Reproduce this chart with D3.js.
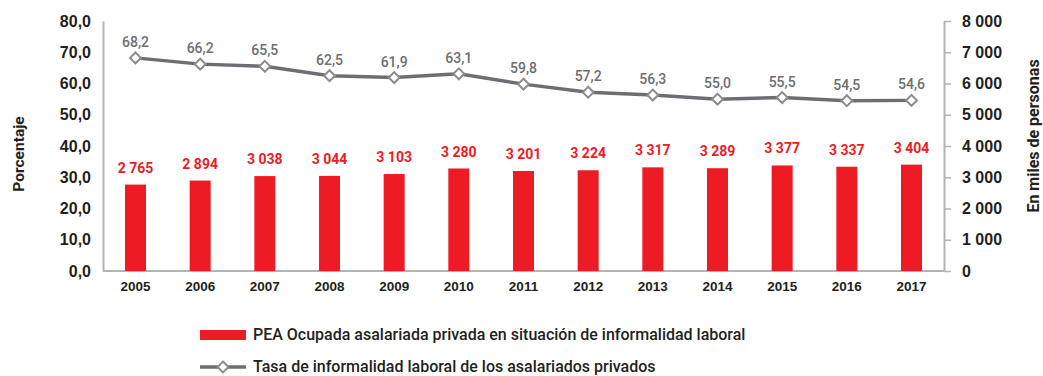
<!DOCTYPE html>
<html>
<head>
<meta charset="utf-8">
<script src="https://cdn.jsdelivr.net/npm/d3@7"></script>
<style>
  html, body { margin: 0; padding: 0; background: #fff; }
  svg { display: block; font-family: Roboto, "Liberation Sans", Arial, sans-serif; }
</style>
</head>
<body>
<svg id="chart" width="1043" height="376"></svg>
<script>
// Años del periodo
const years = ["2005","2006","2007","2008","2009","2010","2011","2012","2013","2014","2015","2016","2017"];
// PEA ocupada asalariada privada en situación de informalidad (miles de personas)
const peaInformal = [2765, 2894, 3038, 3044, 3103, 3280, 3201, 3224, 3317, 3289, 3377, 3337, 3404];
// Tasa de informalidad laboral de los asalariados privados (%)
const tasaInformalidad = [68.2, 66.2, 65.5, 62.5, 61.9, 63.1, 59.8, 57.2, 56.3, 55.0, 55.5, 54.5, 54.6];
// Marcas de los ejes
const leftTicks = [0, 10, 20, 30, 40, 50, 60, 70, 80];
const rightTicks = [0, 1000, 2000, 3000, 4000, 5000, 6000, 7000, 8000];
// Leyenda
const legendLabels = [
  "PEA Ocupada asalariada privada en situación de informalidad laboral",
  "Tasa de informalidad laboral de los asalariados privados"
];

const RED = "#ed1c24", GREY_LINE = "#6d6e71", GREY_MARK = "#8c8c8c", AXIS = "#b3b3b3", DARK = "#231f20";

const svg = d3.select("#chart");
const plot = { left: 103, right: 944, top: 21, bottom: 271 };

const x = d3.scaleBand().domain(years).range([plot.left, plot.right]).paddingInner(0.675).paddingOuter(0.34);
const yLeft = d3.scaleLinear().domain([0, 80]).range([plot.bottom, plot.top]);
const yRight = d3.scaleLinear().domain([0, 8000]).range([plot.bottom, plot.top]);

const fmtPct = d => d3.format(".1f")(d).replace(".", ",");
const fmtThousands = d => d3.format(",")(d).replace(/,/g, " ");

// Eje izquierdo (porcentaje)
const gLeft = svg.append("g").attr("transform", `translate(${plot.left},0)`)
  .call(d3.axisLeft(yLeft).tickValues(leftTicks).tickFormat(fmtPct).tickSize(0).tickPadding(12));
gLeft.select(".domain").attr("stroke", AXIS).attr("stroke-width", 2);
gLeft.selectAll("text").attr("fill", DARK).style("font-size", "16px").style("font-weight", "700");

// Eje derecho (miles de personas)
const gRight = svg.append("g").attr("transform", `translate(${plot.right},0)`)
  .call(d3.axisRight(yRight).tickValues(rightTicks).tickFormat(fmtThousands).tickSize(7).tickSizeOuter(0).tickPadding(11));
gRight.select(".domain").attr("stroke", AXIS).attr("stroke-width", 2);
gRight.selectAll(".tick line").attr("stroke", AXIS).attr("stroke-width", 1.5);
gRight.selectAll("text").attr("fill", DARK).style("font-size", "16px").style("font-weight", "700");

// Eje inferior (años)
const gBottom = svg.append("g").attr("transform", `translate(0,${plot.bottom})`)
  .call(d3.axisBottom(x).tickSize(0).tickPadding(10));
gBottom.select(".domain").attr("stroke", AXIS).attr("stroke-width", 2).attr("d", `M${plot.left},0H${plot.right}`);
gBottom.selectAll("text").attr("fill", DARK).style("font-size", "13.5px").style("font-weight", "700");

// Títulos de los ejes
svg.append("text").attr("transform", `translate(24,154) rotate(-90)`)
  .attr("text-anchor", "middle").attr("fill", DARK)
  .style("font-size", "15.5px").style("font-weight", "700").text("Porcentaje");
svg.append("text").attr("transform", `translate(1038.5,136) rotate(-90)`)
  .attr("text-anchor", "middle").attr("fill", DARK)
  .style("font-size", "16px").style("font-weight", "700").text("En miles de personas");

// Barras
const bars = years.map((yr, i) => ({ yr, v: peaInformal[i] }));
svg.append("g").selectAll("rect").data(bars).join("rect")
  .attr("x", d => x(d.yr)).attr("width", x.bandwidth())
  .attr("y", d => yRight(d.v)).attr("height", d => plot.bottom - yRight(d.v))
  .attr("fill", RED);
svg.append("g").selectAll("text").data(bars).join("text")
  .attr("x", d => x(d.yr) + x.bandwidth() / 2).attr("y", d => yRight(d.v) - 12)
  .attr("text-anchor", "middle").attr("fill", RED)
  .style("font-size", "14px").style("font-weight", "700")
  .text(d => fmtThousands(d.v));

// Línea de la tasa
const pts = years.map((yr, i) => ({ yr, v: tasaInformalidad[i] }));
const cx = d => x(d.yr) + x.bandwidth() / 2;
svg.append("path").datum(pts)
  .attr("fill", "none").attr("stroke", GREY_LINE).attr("stroke-width", 3.5)
  .attr("d", d3.line().x(cx).y(d => yLeft(d.v)));
const diamond = d3.symbol().type(d3.symbolDiamond2).size(75);
svg.append("g").selectAll("path").data(pts).join("path")
  .attr("transform", d => `translate(${cx(d)},${yLeft(d.v)})`)
  .attr("d", diamond)
  .attr("fill", "#fff").attr("stroke", GREY_MARK).attr("stroke-width", 2);
svg.append("g").selectAll("text").data(pts).join("text")
  .attr("x", cx).attr("y", d => yLeft(d.v) - 11)
  .attr("text-anchor", "middle").attr("fill", GREY_LINE)
  .style("font-size", "14px").style("font-weight", "500")
  .text(d => fmtPct(d.v));

// Leyenda
const lg = svg.append("g");
lg.append("rect").attr("x", 200).attr("y", 330).attr("width", 46).attr("height", 10).attr("fill", RED);
lg.append("text").attr("x", 253).attr("y", 340).attr("fill", DARK)
  .style("font-size", "16px").style("font-weight", "500").text(legendLabels[0]);
lg.append("line").attr("x1", 200).attr("x2", 246).attr("y1", 367).attr("y2", 367)
  .attr("stroke", GREY_LINE).attr("stroke-width", 3.5);
lg.append("path").attr("transform", "translate(223,367)").attr("d", diamond)
  .attr("fill", "#fff").attr("stroke", GREY_MARK).attr("stroke-width", 2);
lg.append("text").attr("x", 253).attr("y", 372).attr("fill", DARK)
  .style("font-size", "16px").style("font-weight", "500").text(legendLabels[1]);
</script>
</body>
</html>
